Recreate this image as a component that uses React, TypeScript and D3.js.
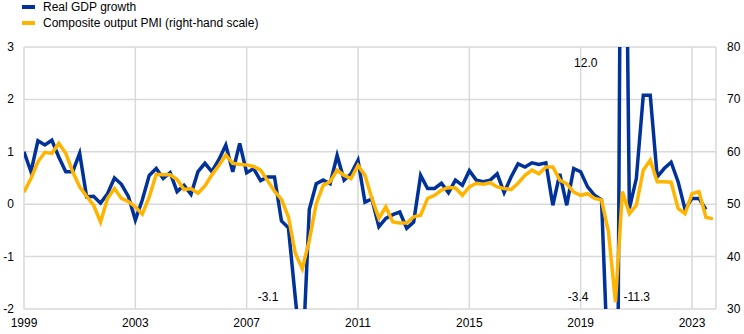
import React from "react";
import * as d3 from "d3";

const startYear = 1999;
const gdp: number[] = [
  1.0, 0.62, 1.21, 1.13, 1.22, 0.9, 0.62, 0.62, 0.97, 0.14,
  0.15, 0.02, 0.2, 0.5, 0.38, 0.15, -0.3, 0.08, 0.55, 0.68,
  0.49, 0.6, 0.24, 0.36, 0.19, 0.62, 0.78, 0.62, 0.85, 1.13,
  0.62, 1.16, 0.6, 0.68, 0.45, 0.52, 0.52, -0.32, -0.45, -1.8,
  -3.1, -0.1, 0.39, 0.46, 0.39, 0.93, 0.46, 0.58, 0.84, 0.04,
  0.1, -0.43, -0.27, -0.2, -0.15, -0.46, -0.34, 0.55, 0.3, 0.3,
  0.4, 0.22, 0.46, 0.36, 0.64, 0.46, 0.43, 0.46, 0.58, 0.22,
  0.52, 0.77, 0.71, 0.79, 0.76, 0.79, -0.02, 0.58, -0.02, 0.68,
  0.62, 0.33, 0.17, 0.08, -3.4, -11.3, 12.0, -0.08, 0.49, 2.08,
  2.08, 0.52, 0.68, 0.8, 0.43, -0.1, 0.11, 0.11, -0.1,
];
const pmi: number[] = [
  52.3, 54.9, 58.1, 59.9, 59.7, 61.6, 59.7, 56.2, 53.3, 51.5,
  49.8, 46.6, 51.1, 53.0, 51.1, 50.5, 49.5, 48.1, 51.4, 55.7,
  55.6, 55.6, 54.7, 52.8, 53.0, 52.1, 53.5, 55.6, 57.4, 59.4,
  57.8, 57.6, 57.5, 57.2, 56.5, 54.5, 52.5, 50.9, 47.6, 40.6,
  37.7, 43.1, 50.1, 53.6, 54.3, 56.5, 55.5, 54.9, 57.4, 55.5,
  51.1, 47.3, 49.5, 46.6, 46.4, 46.4, 47.6, 47.9, 51.1, 51.7,
  52.7, 53.2, 53.1, 51.7, 53.3, 54.0, 53.8, 54.1, 53.3, 53.0,
  52.8, 54.0, 55.5, 56.5, 55.8, 57.1, 57.1, 54.6, 53.9, 52.3,
  51.7, 52.0, 51.1, 50.8, 44.7, 31.3, 52.4, 48.2, 49.8, 56.5,
  58.4, 54.3, 54.3, 54.2, 49.2, 48.2, 52.0, 52.4, 47.5, 47.2,
];
const leftTicks = [-2, -1, 0, 1, 2, 3];
const rightTicks = [30, 40, 50, 60, 70, 80];
const yearTicks = [1999, 2003, 2007, 2011, 2015, 2019, 2023];
const annotations = [
  { q: 40, text: "-3.1", side: "left" },
  { q: 84, text: "-3.4", side: "left" },
  { q: 85, text: "-11.3", side: "right" },
  { q: 86, text: "12.0", side: "top" },
];

const BLUE = "#003299";
const YELLOW = "#FFB400";
const GRID = "#d9d9d9";
const FONT = "'Liberation Sans', Arial, sans-serif";

export default function App() {
  const W = 744, H = 334;
  const left = 24, right = 716, top = 47, bottom = 309;
  const x = d3.scaleLinear().domain([1999, 2023]).range([left, 692]);
  const yL = d3.scaleLinear().domain([-2, 3]).range([bottom, top]);
  const yR = d3.scaleLinear().domain([30, 80]).range([bottom, top]);
  const qx = (i: number) => x(startYear + i / 4);

  const gdpLine = d3.line<number>().x((_, i) => qx(i)).y((d) => yL(d));
  const pmiLine = d3.line<number>().x((_, i) => qx(i)).y((d) => yR(d));

  return (
    <svg width={W} height={H} style={{ position: "absolute", left: 0, top: 0, background: "#fff" }} fontFamily={FONT}>
      <defs>
        <clipPath id="plot">
          <rect x={left} y={top} width={right - left} height={bottom - top} />
        </clipPath>
      </defs>
      {/* legend */}
      <rect x={22} y={5} width={13} height={4} fill={BLUE} />
      <text x={43} y={11} fontSize={12} fill="#000">Real GDP growth</text>
      <rect x={22} y={21} width={13} height={4} fill={YELLOW} />
      <text x={43} y={27} fontSize={12} fill="#000">Composite output PMI (right-hand scale)</text>

      {/* grid */}
      {leftTicks.map((t) => (
        <line key={"h" + t} x1={left} x2={right} y1={yL(t)} y2={yL(t)} stroke={GRID} strokeWidth={1.5} />
      ))}
      {yearTicks.map((t) => (
        <line key={"v" + t} x1={x(t)} x2={x(t)} y1={top} y2={bottom} stroke={GRID} strokeWidth={1.5} />
      ))}
      <line x1={right} x2={right} y1={top} y2={bottom} stroke={GRID} strokeWidth={1.5} />

      {/* axes labels */}
      {leftTicks.map((t) => (
        <text key={"l" + t} x={14} y={yL(t) + 4} fontSize={12} textAnchor="end" fill="#000">{t}</text>
      ))}
      {rightTicks.map((t) => (
        <text key={"r" + t} x={727} y={yR(t) + 4} fontSize={12} textAnchor="start" fill="#000">{t}</text>
      ))}
      {yearTicks.map((t) => (
        <text key={"x" + t} x={x(t)} y={327} fontSize={12} textAnchor="middle" fill="#000">{t}</text>
      ))}

      {/* series */}
      <g clipPath="url(#plot)">
        <path d={gdpLine(gdp) || ""} fill="none" stroke={BLUE} strokeWidth={3.5} strokeLinejoin="miter" />
        <path d={pmiLine(pmi) || ""} fill="none" stroke={YELLOW} strokeWidth={3.5} strokeLinejoin="miter" />
      </g>

      {/* annotations */}
      {annotations.map((a) => {
        const ax = qx(a.q);
        if (a.side === "top")
          return <text key={a.text} x={ax - 25} y={67} fontSize={12} textAnchor="end" fill="#000">{a.text}</text>;
        if (a.side === "left")
          return <text key={a.text} x={ax - (a.q === 40 ? 24 : 20)} y={301} fontSize={12} textAnchor="end" fill="#000">{a.text}</text>;
        return <text key={a.text} x={ax + 8} y={301} fontSize={12} textAnchor="start" fill="#000">{a.text}</text>;
      })}
    </svg>
  );
}
